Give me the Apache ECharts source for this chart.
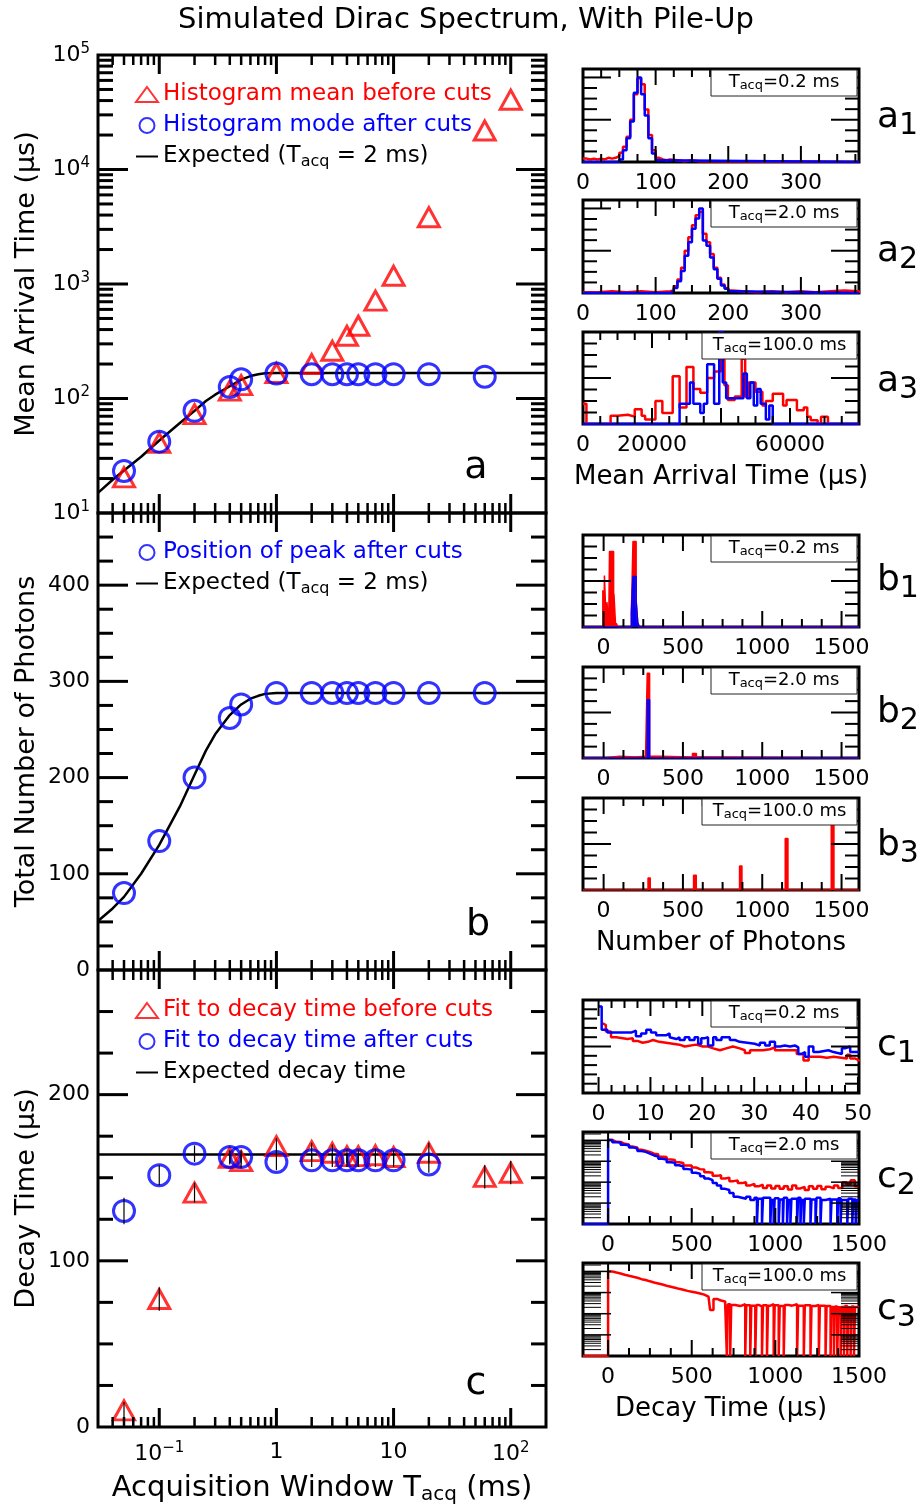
<!DOCTYPE html>
<html>
<head>
<meta charset="utf-8">
<title>Simulated Dirac Spectrum, With Pile-Up</title>
<script src="https://cdn.jsdelivr.net/npm/echarts@6.0.0/dist/echarts.min.js"></script>
<style>
  html, body { margin: 0; padding: 0; background: #fff; }
  #main { width: 923px; height: 1509px; }
</style>
</head>
<body>
<div id="main"></div>
<script>
// ---- main panels, x = acquisition window T_acq (ms) ----
const tAcqAll = [0.05, 0.1, 0.2, 0.4, 0.5, 1, 2, 3, 4, 5, 7, 10, 20, 60, 100]
const tAcqCut = [0.05, 0.1, 0.2, 0.4, 0.5, 1, 2, 3, 4, 5, 7, 10, 20, 60]
const tAcqFit = [0.05, 0.1, 0.2, 0.4, 0.5, 1, 2, 3, 4, 5, 7, 10, 20]

// a: mean arrival time (us)
const meanBeforeCuts = [20.5, 41, 73, 117, 131, 167, 200, 261, 353, 432, 715, 1180, 3830, 21900, 40700]
const modeAfterCuts = [23.3, 42, 78, 126, 147, 165, 163, 163, 163, 163, 163, 163, 163, 155]
const expectedArrivalT = [0.03, 0.04, 0.05, 0.07, 0.1, 0.15, 0.2, 0.25, 0.3, 0.4, 0.5, 0.6, 0.7, 0.8, 1, 200]
const expectedArrival = [15, 19.5, 23.5, 31, 43, 61, 78, 95, 108, 128, 146, 157, 163, 166, 167, 167]

// b: total number of photons
const photonPeak = [80, 134, 200, 262, 276, 288, 288, 288, 288, 288, 288, 288, 288, 288]
const expectedPhotonsT = [0.03, 0.04, 0.05, 0.07, 0.1, 0.15, 0.2, 0.25, 0.3, 0.4, 0.5, 0.6, 0.7, 0.8, 1, 200]
const expectedPhotons = [51, 64, 76, 100, 130, 170, 203, 228, 245, 265, 276, 282, 285, 287, 288, 288]

// c: decay time (us)
const decayBeforeCuts = [10, 77, 141, 162, 160, 169, 166, 165, 163, 163, 163.5, 162.5, 165, 150.5, 153]
const decayBeforeErr = [5, 7, 6, 4, 4, 5, 5, 5, 4, 4, 4, 4, 6, 7, 7]
const decayAfterCuts = [130, 151.5, 164.5, 162.5, 162.5, 159.5, 160.5, 160.5, 160.5, 160.5, 160.5, 160.5, 158]
const decayAfterErr = [8, 6, 5, 4, 4, 5, 4, 4, 4, 4, 4, 4, 5]
const expectedDecayT = [0.03, 200]
const expectedDecay = [164, 164]

// tick positions
const logMajorX = [0.1, 1, 10, 100]
const logMinorX = [0.04, 0.05, 0.06, 0.07, 0.08, 0.09, 0.2, 0.3, 0.4, 0.5, 0.6, 0.7, 0.8, 0.9,
  2, 3, 4, 5, 6, 7, 8, 9, 20, 30, 40, 50, 60, 70, 80, 90]
const logMajorA = [100, 1000, 10000]
const logMinorA = [20, 30, 40, 50, 60, 70, 80, 90, 200, 300, 400, 500, 600, 700, 800, 900,
  2000, 3000, 4000, 5000, 6000, 7000, 8000, 9000, 20000, 30000, 40000, 50000, 60000, 70000, 80000, 90000]
const majorB = [100, 200, 300, 400]
const minorB = [25, 50, 75, 125, 150, 175, 225, 250, 275, 325, 350, 375, 425, 450]
const majorC = [100, 200]
const minorC = [25, 50, 75, 125, 150, 175, 225, 250]

// ---- small panels (histograms) ----
const a1X = [0, 5, 10, 15, 20, 25, 30, 35, 40, 45, 50, 55, 60, 65, 70, 75, 80, 85, 90, 95, 100, 105, 110, 115, 120, 130, 140, 150, 160, 170, 380]
const a1Red = [4, 3, 4, 3, 4, 3, 5, 4, 5, 7, 11, 18, 30, 50, 80, 99, 92, 62, 32, 14, 5, 3, 2, 3, 2, 1, 2, 1, 1, 0, 0]
const a1BlueX = [0, 50, 55, 60, 65, 70, 75, 80, 85, 90, 95, 100, 105, 380]
const a1Blue = [0, 3, 14, 28, 48, 82, 100, 80, 55, 28, 10, 2, 0, 0]

const a2X = [0, 20, 40, 60, 80, 100, 120, 125, 130, 135, 140, 145, 150, 155, 160, 165, 170, 175, 180, 185, 190, 195, 200, 205, 220, 240, 260, 280, 300, 320, 340, 360, 380]
const a2Red = [1, 2, 1, 2, 1, 2, 3, 8, 16, 30, 50, 66, 80, 92, 96, 70, 60, 46, 30, 18, 10, 6, 3, 2, 1, 2, 1, 2, 1, 2, 3, 2, 0]
const a2BlueX = [0, 120, 125, 130, 135, 140, 145, 150, 155, 160, 165, 170, 175, 180, 185, 190, 195, 200, 205, 380]
const a2Blue = [0, 2, 6, 14, 26, 44, 60, 76, 88, 100, 62, 56, 42, 28, 17, 9, 5, 2, 0, 0]

const a3X = [0, 1000, 8000, 10000, 13000, 15000, 17000, 18000, 21000, 23000, 26000, 28000, 30000, 32000, 34000, 36000, 38000, 40000, 41000, 42000, 44000, 46000, 47000, 48000, 50000, 52000, 53000, 55000, 58000, 59000, 62000, 64000, 65000, 66000, 68000, 69000, 71000, 80000]
const a3Red = [22, 0, 9, 10, 8, 16, 9, 5, 25, 12, 52, 18, 62, 38, 34, 50, 57, 70, 42, 26, 30, 71, 30, 45, 35, 20, 25, 33, 20, 26, 15, 18, 8, 4, 0, 8, 0, 0]
const a3BlueX = [0, 28000, 31000, 32000, 34000, 35000, 36000, 38000, 39500, 40500, 41500, 46500, 47500, 48500, 49500, 50500, 51500, 53000, 54000, 55000, 80000]
const a3Blue = [0, 22, 45, 22, 12, 22, 65, 22, 100, 45, 28, 55, 28, 45, 20, 38, 22, 5, 20, 0, 0]

const b1X = [-130, -5, 2, 5, 17, 21, 32, 37, 63, 65, 76, 80, 90, 175, 185, 205, 215, 225, 300, 310, 1610]
const b1Red = [0, 40, 0, 56, 0, 27, 0, 82, 0, 36, 0, 4, 0, 16, 93, 27, 5, 0, 2, 0, 0]
const b1BlueX = [-130, 175, 185, 205, 215, 225, 1610]
const b1Blue = [0, 16, 55, 29, 5, 0, 0]

const b2X = [-130, 0, 100, 200, 265, 275, 290, 350, 560, 585, 620, 1610]
const b2Red = [0, 2, 1, 2, 6, 93, 2, 1, 5, 1, 0, 0]
const b2BlueX = [-130, 275, 290, 1610]
const b2Blue = [0, 64, 0, 0]

const b3X = [-130, 280, 294, 567, 584, 857, 872, 1145, 1162, 1435, 1452, 1610]
const b3Red = [0, 13, 0, 16, 0, 26, 0, 56, 0, 71, 0, 0]

const c1BlueX = [0, 0.6, 1.7, 6.3, 7.2, 8.2, 9.2, 10.1, 11.1, 13.0, 13.7, 14.0, 15.0, 15.6, 16.6, 17.5, 18.5, 19.2, 19.8, 20.5, 21.1, 22.1, 22.7, 23.7, 25.3, 26.3, 27.2, 30.1, 31.1, 32.1, 33.0, 34.0, 35.0, 35.9, 36.9, 37.9, 38.5, 39.2, 39.8, 40.5, 41.4, 42.4, 44.3, 45.3, 46.9, 47.5, 48.5, 50.2]
const c1Blue = [93, 68, 65, 67, 61, 64, 68, 65, 62, 64, 60, 58, 60, 57, 60, 57, 60, 53, 59, 60, 51, 60, 57, 60, 57, 55, 53, 51, 54, 51, 55, 50, 51, 50, 51, 49, 42, 44, 39, 50, 44, 46, 44, 42, 48, 50, 44, 44]
const c1RedX = [0.8, 1.1, 1.4, 2.4, 3.4, 5.6, 6.6, 7.5, 8.5, 9.5, 10.5, 11.7, 13.0, 14.3, 15.6, 16.6, 18.8, 20.1, 21.1, 22.1, 23.4, 24.6, 25.9, 27.2, 28.2, 29.2, 31.7, 33.0, 34.0, 36.9, 38.2, 39.5, 40.5, 42.7, 44.0, 45.3, 47.9, 48.5, 49.5, 50.2]
const c1Red = [75, 73, 66, 60, 58, 59, 56, 54, 55, 57, 55, 54, 53, 52, 50, 52, 50, 50, 48, 46, 48, 50, 48, 46, 43, 46, 47, 49, 46, 46, 42, 35, 39, 38, 39, 37, 41, 37, 35, 34]

const c2RedX = [0, 25, 50, 75, 100, 125, 150, 175, 200, 225, 250, 275, 300, 325, 350, 375, 400, 425, 450, 475, 500, 525, 550, 575, 600, 625, 650, 675, 700, 725, 750, 775, 800, 825, 850, 875, 900, 925, 950, 975, 1000, 1025, 1050, 1075, 1100, 1125, 1150, 1175, 1200, 1225, 1250, 1275, 1300, 1325, 1350, 1375, 1400, 1425, 1450, 1475, 1500]
const c2Red = [10500, 8500, 8300, 6800, 6300, 5000, 4600, 3550, 3200, 2800, 2300, 2150, 1650, 1600, 1200, 1150, 890, 830, 630, 630, 500, 420, 400, 300, 280, 200, 215, 150, 165, 112, 120, 90, 100, 70, 83, 63, 76, 52, 70, 50, 66, 48, 63, 45, 70, 50, 60, 42, 63, 48, 66, 46, 60, 50, 70, 52, 100, 80, 125, 63, 63]
const c2BlueX = [-150, 0, 25, 50, 75, 100, 125, 150, 175, 200, 225, 250, 275, 300, 325, 350, 375, 400, 425, 450, 475, 500, 525, 550, 575, 600, 625, 650, 675, 700, 725, 750, 775, 800, 825, 850, 875,
  890, 896, 920, 926, 970, 976, 990, 996, 1020, 1026, 1045, 1050, 1070, 1076, 1090, 1096, 1130, 1136, 1150, 1156, 1170, 1176, 1210, 1216, 1240, 1246, 1270, 1276, 1300, 1330, 1336, 1370, 1376, 1390, 1396, 1430, 1436, 1460, 1466, 1480, 1486, 1500]
const c2Blue = [1, 10500, 8000, 7800, 6200, 5800, 4600, 4100, 3100, 2800, 2300, 1900, 1700, 1300, 1200, 900, 850, 640, 560, 420, 400, 280, 250, 190, 150, 125, 90, 70, 48, 42, 30, 20, 18, 16, 20, 14, 18,
  1, 16, 1, 18, 1, 14, 1, 17, 1, 15, 1, 18, 1, 14, 1, 16, 1, 18, 1, 14, 1, 16, 1, 15, 1, 18, 1, 14, 16, 1, 15, 1, 17, 1, 14, 1, 16, 1, 15, 1, 14, 14]

const c3X = [-150, 0, 25, 50, 75, 100, 125, 150, 175, 200, 225, 250, 275, 300, 325, 350, 375, 400, 425, 450, 475, 500, 525, 550, 575, 600, 610, 630, 650, 675, 700, 710, 716, 730, 736, 760, 790, 820, 826, 850, 856, 880, 886, 900, 920, 926, 950, 956, 970, 990, 996, 1020, 1026, 1050, 1056, 1080, 1100, 1130, 1136, 1170, 1176, 1210, 1216, 1240, 1260, 1266, 1300, 1306, 1330, 1336, 1350, 1356, 1370, 1376, 1390, 1396, 1410, 1416, 1430, 1436, 1450, 1456, 1470, 1476, 1500]
const c3Red = [1, 10000, 8900, 8000, 7000, 6200, 5600, 5000, 4300, 3900, 3400, 3000, 2700, 2400, 2100, 1900, 1700, 1500, 1350, 1200, 1100, 1000, 900, 800, 650, 540, 150, 500, 420, 380, 300, 1, 280, 1, 260, 230, 280, 1, 250, 1, 240, 1, 260, 220, 1, 250, 1, 240, 280, 1, 250, 1, 230, 1, 260, 240, 280, 1, 240, 1, 250, 1, 230, 260, 1, 240, 1, 230, 1, 210, 1, 220, 1, 200, 1, 210, 1, 230, 1, 200, 1, 220, 1, 210, 210]

// small panel ticks
const aMajor = [100, 200, 300]
const aMinor = [25, 50, 75, 125, 150, 175, 225, 250, 275, 325, 350, 375]
const a3Major = [20000, 40000, 60000]
const a3Minor = [5000, 10000, 15000, 25000, 30000, 35000, 45000, 50000, 55000, 65000, 70000, 75000]
const nMajor = [0, 500, 1000, 1500]
const nMinor = [125, 250, 375, 625, 750, 875, 1125, 1250, 1375]
const c1Major = [0, 10, 20, 30, 40, 50]
const c1Minor = [2.5, 5, 7.5, 12.5, 15, 17.5, 22.5, 25, 27.5, 32.5, 35, 37.5, 42.5, 45, 47.5]
const histMajorY = [50, 100]
const histMinorY = [12.5, 25, 37.5, 62.5, 75, 87.5]
const c1MajorY = [50]
const c1MinorY = [10, 20, 30, 40, 60, 70, 80, 90]
const logMajorC = [10, 100, 1000, 10000]
const logMinorC = [2, 3, 4, 5, 6, 7, 8, 9, 20, 30, 40, 50, 60, 70, 80, 90, 200, 300, 400, 500, 600, 700, 800, 900, 2000, 3000, 4000, 5000, 6000, 7000, 8000, 9000, 20000]

const F = 'DejaVu Sans'
const RED = '#ff0000'
const BLUE = '#0000ff'

let grids = []
let xAxes = []
let yAxes = []
let series = []
let graphic = []

function pairs (xs, ys) {
  return xs.map((x, i) => [x, ys[i]])
}

function seg (x1, y1, x2, y2, w) {
  return {type: 'line', shape: {x1, y1, x2, y2}, style: {stroke: '#000', lineWidth: w}}
}

// tick marks on all four sides, placed through the axes' own scales
function ticks (p, ref, xT, yT) {
  return {
    type: 'custom', xAxisIndex: p.xi, yAxisIndex: p.yi, data: [ref], silent: true, z: 6, clip: false,
    renderItem (params, api) {
      const cs = params.coordSys
      const kids = []
      xT.forEach(t => t.v.forEach(v => {
        const px = api.coord([v, ref[1]])[0]
        kids.push(seg(px, cs.y + cs.height, px, cs.y + cs.height - t.len, t.w))
        kids.push(seg(px, cs.y, px, cs.y + t.len, t.w))
      }))
      yT.forEach(t => t.v.forEach(v => {
        const py = api.coord([ref[0], v])[1]
        kids.push(seg(cs.x, py, cs.x + t.len, py, t.w))
        kids.push(seg(cs.x + cs.width, py, cs.x + cs.width - t.len, py, t.w))
      }))
      return {type: 'group', children: kids}
    }
  }
}

const bare = {axisLine: {show: false, onZero: false}, axisTick: {show: false}, splitLine: {show: false},
  minorTick: {show: false}, minorSplitLine: {show: false}}

function panel (box, bw, xCfg, yCfg) {
  const g = grids.length
  grids.push({left: box[0], top: box[1], width: box[2], height: box[3], show: true,
    borderColor: '#000', borderWidth: bw, backgroundColor: 'rgba(0,0,0,0)'})
  const xi = xAxes.length
  const yi = yAxes.length
  xAxes.push(Object.assign({gridIndex: g, position: 'bottom'}, bare, xCfg))
  xAxes.push(Object.assign({gridIndex: g, position: 'top'}, bare, xCfg, {axisLabel: {show: false}, name: ''}))
  yAxes.push(Object.assign({gridIndex: g, position: 'left'}, bare, yCfg))
  yAxes.push(Object.assign({gridIndex: g, position: 'right'}, bare, yCfg, {axisLabel: {show: false}, name: ''}))
  return {xi, yi}
}

const subRich = (size, pad) => ({fontSize: size, fontFamily: F, padding: [pad, 0, 0, 0]})
const supRich = (size, pad) => ({fontSize: size, fontFamily: F, padding: [0, 0, pad, 0]})
const nameStyle = {fontFamily: F, fontSize: 27, color: '#000', rich: {s: subRich(19, 12)}}
const tickLabel = {show: true, fontFamily: F, fontSize: 22, color: '#000'}

function supLabel (e) {
  if (e === 0) return '1'
  if (e === 1) return '10'
  return '10{sup|' + (e < 0 ? '\u2212' + (-e) : e) + '}'
}

// ---------- main panels ----------
const ML = 98
const MW = 448
const mainX = {type: 'log', logBase: 10, min: 0.03, max: 200, axisLabel: {show: false}}

const pa = panel([ML, 55, MW, 458], 3, mainX, {
  type: 'log', logBase: 10, min: 10, max: 100000,
  axisLabel: Object.assign({}, tickLabel, {margin: 8,
    formatter: v => '10{sup|' + Math.round(Math.log10(v)) + '}',
    rich: {sup: supRich(15, 12)}}),
  name: 'Mean Arrival Time (\u03bcs)', nameLocation: 'middle', nameGap: 58, nameTextStyle: nameStyle
})
const pb = panel([ML, 513, MW, 457], 3, mainX, {
  type: 'value', min: 0, max: 475, interval: 100,
  axisLabel: Object.assign({}, tickLabel, {margin: 8, formatter: v => (v <= 400 ? String(v) : '')}),
  name: 'Total Number of Photons', nameLocation: 'middle', nameGap: 58, nameTextStyle: nameStyle
})
const pc = panel([ML, 970, MW, 457], 3, Object.assign({}, mainX, {
  axisLabel: Object.assign({}, tickLabel, {margin: 14,
    formatter: v => {
      const l = Math.log10(v)
      const e = Math.round(l)
      return Math.abs(l - e) < 1e-6 && v > 0.05 && v < 150 ? supLabel(e) : ''
    },
    rich: {sup: supRich(15, 12)}}),
  name: 'Acquisition Window T{s|acq} (ms)', nameLocation: 'middle', nameGap: 45,
  nameTextStyle: {fontFamily: F, fontSize: 29, color: '#000', rich: {s: subRich(20, 13)}}
}), {
  type: 'value', min: 0, max: 275, interval: 100,
  axisLabel: Object.assign({}, tickLabel, {margin: 8, formatter: v => (v <= 200 ? String(v) : '')}),
  name: 'Decay Time (\u03bcs)', nameLocation: 'middle', nameGap: 58, nameTextStyle: nameStyle
})

const xMainTicks = [{v: logMajorX, len: 19, w: 3}, {v: logMinorX, len: 10, w: 2.5}]

function hollow (p, name, data, symbol, size, color, z) {
  return {type: 'scatter', name, xAxisIndex: p.xi, yAxisIndex: p.yi, data, symbol, symbolSize: size,
    itemStyle: {color: 'rgba(255,255,255,0)', borderColor: color, borderWidth: 3},
    z, silent: true, clip: false}
}
function expLine (p, name, data) {
  return {type: 'line', name, xAxisIndex: p.xi, yAxisIndex: p.yi, data, symbol: 'none', showSymbol: false,
    lineStyle: {color: '#000', width: 2.5}, itemStyle: {color: '#000'}, z: 2, silent: true}
}
function errBars (p, xs, ys, es) {
  return {
    type: 'custom', xAxisIndex: p.xi, yAxisIndex: p.yi, silent: true, z: 5,
    data: xs.map((x, i) => [x, ys[i], es[i]]),
    renderItem (params, api) {
      const lo = api.coord([api.value(0), api.value(1) - api.value(2)])
      const hi = api.coord([api.value(0), api.value(1) + api.value(2)])
      return seg(lo[0], lo[1], hi[0], hi[1], 1.2)
    }
  }
}

series.push(
  expLine(pa, 'Expected (Tacq = 2 ms)', pairs(expectedArrivalT, expectedArrival)),
  hollow(pa, 'Histogram mean before cuts', pairs(tAcqAll, meanBeforeCuts), 'triangle', [21, 19], RED, 3),
  hollow(pa, 'Histogram mode after cuts', pairs(tAcqCut, modeAfterCuts), 'circle', 21, BLUE, 4),
  ticks(pa, [1, 100], xMainTicks, [{v: logMajorA, len: 30, w: 3}, {v: logMinorA, len: 15, w: 3}]),

  expLine(pb, 'Expected (Tacq = 2 ms)', pairs(expectedPhotonsT, expectedPhotons)),
  hollow(pb, 'Position of peak after cuts', pairs(tAcqCut, photonPeak), 'circle', 21, BLUE, 4),
  ticks(pb, [1, 100], xMainTicks, [{v: majorB, len: 30, w: 3}, {v: minorB, len: 15, w: 3}]),

  expLine(pc, 'Expected decay time', pairs(expectedDecayT, expectedDecay)),
  errBars(pc, tAcqAll, decayBeforeCuts, decayBeforeErr),
  errBars(pc, tAcqFit, decayAfterCuts, decayAfterErr),
  hollow(pc, 'Fit to decay time before cuts', pairs(tAcqAll, decayBeforeCuts), 'triangle', [21, 19], RED, 3),
  hollow(pc, 'Fit to decay time after cuts', pairs(tAcqFit, decayAfterCuts), 'circle', 21, BLUE, 4),
  ticks(pc, [1, 100], xMainTicks, [{v: majorC, len: 30, w: 3}, {v: minorC, len: 15, w: 3}])
)

// ---------- small panels ----------
const SL = 583
const SW = 276
const smallY = {type: 'value', min: 0, max: 110, axisLabel: {show: false}}
const smallY100 = {type: 'value', min: 0, max: 100, axisLabel: {show: false}}
const smallYlog = {type: 'log', logBase: 10, min: 1, max: 25000, axisLabel: {show: false}}

function smallX (min, max, interval, show, name) {
  const cfg = {type: 'value', min, max, interval,
    axisLabel: Object.assign({}, tickLabel, {margin: 10, showMinLabel: true, showMaxLabel: true,
      formatter: v => (show(v) ? String(v) : '')})}
  if (name) {
    Object.assign(cfg, {name, nameLocation: 'middle', nameGap: 40,
      nameTextStyle: {fontFamily: F, fontSize: 26, color: '#000'}})
  }
  return cfg
}
const showA = v => v >= 0 && v <= 300 && v % 100 === 0
const showA3 = v => v === 0 || v === 20000 || v === 60000
const show500 = v => v >= 0 && v % 500 === 0
const show10 = v => v >= 0 && v % 10 === 0

function stepLine (p, data, color, width, area) {
  const s = {type: 'line', xAxisIndex: p.xi, yAxisIndex: p.yi, data, step: 'end', symbol: 'none',
    showSymbol: false, lineStyle: {color, width}, itemStyle: {color}, z: 3, silent: true}
  if (area) s.areaStyle = {color, opacity: 1}
  return s
}

const xSmallTicks = (maj, min) => [{v: maj, len: 16, w: 2}, {v: min, len: 8, w: 2}]
const ySmallTicks = (maj, min) => [{v: maj, len: 28, w: 2}, {v: min, len: 14, w: 2}]
const yLogTicks = [{v: logMajorC, len: 28, w: 1.5}, {v: logMinorC, len: 18, w: 1}]

const p_a1 = panel([SL, 69, SW, 93], 3, smallX(0, 380, 100, showA), smallY)
const p_a2 = panel([SL, 200, SW, 93], 3, smallX(0, 380, 100, showA), smallY)
const p_a3 = panel([SL, 332, SW, 92], 3, smallX(0, 80000, 20000, showA3, 'Mean Arrival Time (\u03bcs)'), smallY100)
const p_b1 = panel([SL, 535, SW, 92], 3, smallX(-130, 1610, 10, show500), smallY100)
const p_b2 = panel([SL, 667, SW, 91], 3, smallX(-130, 1610, 10, show500), smallY100)
const p_b3 = panel([SL, 798, SW, 92], 3, smallX(-130, 1610, 10, show500, 'Number of Photons'), smallY100)
const p_c1 = panel([SL, 1000, SW, 93], 3, smallX(-3, 50.2, 1, show10), smallY100)
const p_c2 = panel([SL, 1132, SW, 92], 3, smallX(-150, 1500, 50, show500), smallYlog)
const p_c3 = panel([SL, 1263, SW, 93], 3, smallX(-150, 1500, 50, show500, 'Decay Time (\u03bcs)'), smallYlog)

series.push(
  stepLine(p_a1, pairs(a1X, a1Red), RED, 2.5), stepLine(p_a1, pairs(a1BlueX, a1Blue), BLUE, 2.5),
  ticks(p_a1, [10, 10], xSmallTicks(aMajor, aMinor), ySmallTicks(histMajorY, histMinorY)),
  stepLine(p_a2, pairs(a2X, a2Red), RED, 2.5), stepLine(p_a2, pairs(a2BlueX, a2Blue), BLUE, 2.5),
  ticks(p_a2, [10, 10], xSmallTicks(aMajor, aMinor), ySmallTicks(histMajorY, histMinorY)),
  stepLine(p_a3, pairs(a3X, a3Red), RED, 2.5), stepLine(p_a3, pairs(a3BlueX, a3Blue), BLUE, 2.5),
  ticks(p_a3, [10, 10], xSmallTicks(a3Major, a3Minor), ySmallTicks(histMajorY, histMinorY)),

  stepLine(p_b1, pairs(b1X, b1Red), RED, 1.5, true), stepLine(p_b1, pairs(b1BlueX, b1Blue), BLUE, 1.5, true),
  ticks(p_b1, [10, 10], xSmallTicks(nMajor, nMinor), ySmallTicks(histMajorY, histMinorY)),
  stepLine(p_b2, pairs(b2X, b2Red), RED, 1.5, true), stepLine(p_b2, pairs(b2BlueX, b2Blue), BLUE, 1.5, true),
  ticks(p_b2, [10, 10], xSmallTicks(nMajor, nMinor), ySmallTicks(histMajorY, histMinorY)),
  stepLine(p_b3, pairs(b3X, b3Red), RED, 1.5, true),
  ticks(p_b3, [10, 10], xSmallTicks(nMajor, nMinor), ySmallTicks(histMajorY, histMinorY)),

  stepLine(p_c1, pairs(c1RedX, c1Red), RED, 2.5), stepLine(p_c1, pairs(c1BlueX, c1Blue), BLUE, 2.5),
  ticks(p_c1, [10, 10], xSmallTicks(c1Major, c1Minor), ySmallTicks(c1MajorY, c1MinorY)),
  stepLine(p_c2, pairs(c2RedX, c2Red), RED, 2.5), stepLine(p_c2, pairs(c2BlueX, c2Blue), BLUE, 2.5),
  ticks(p_c2, [10, 10], xSmallTicks(nMajor, nMinor), yLogTicks),
  stepLine(p_c3, pairs(c3X, c3Red), RED, 2.5),
  ticks(p_c3, [10, 10], xSmallTicks(nMajor, nMinor), yLogTicks)
)

// ---------- texts ----------
graphic.push({type: 'text', x: 466, y: 20, z: 100, silent: true,
  style: {text: 'Simulated Dirac Spectrum, With Pile-Up', fontFamily: F, fontSize: 29, fill: '#000',
    align: 'center', verticalAlign: 'middle'}})

;[['a', 476, 468], ['b', 478, 925], ['c', 476, 1384]].forEach(t => {
  graphic.push({type: 'text', x: t[1], y: t[2], z: 100, silent: true,
    style: {text: t[0], fontFamily: F, fontSize: 38, fill: '#000', align: 'center', verticalAlign: 'middle'}})
})

const smallTags = [['a', '1', 118], ['a', '2', 252], ['a', '3', 382], ['b', '1', 581], ['b', '2', 713],
  ['b', '3', 846], ['c', '1', 1046], ['c', '2', 1178], ['c', '3', 1310]]
smallTags.forEach(t => {
  graphic.push({type: 'text', x: 877, y: t[2], z: 100, silent: true,
    style: {text: t[0] + '{s|' + t[1] + '}', fontFamily: F, fontSize: 36, fill: '#000',
      align: 'left', verticalAlign: 'middle', rich: {s: subRich(30, 16)}}})
})

const tacqBoxes = [[69, '0.2'], [200, '2.0'], [332, '100.0'], [535, '0.2'], [667, '2.0'], [798, '100.0'],
  [1000, '0.2'], [1132, '2.0'], [1263, '100.0']]
tacqBoxes.forEach(b => {
  const w = b[1].length > 3 ? 155 : 146
  const x = SL + SW - 2 - w
  const y = b[0] + 1
  graphic.push({type: 'rect', z: 100, silent: true, shape: {x, y, width: w, height: 26},
    style: {fill: '#fff', stroke: '#222', lineWidth: 1}})
  graphic.push({type: 'text', x: x + w / 2, y: y + 12, z: 101, silent: true,
    style: {text: 'T{s|acq}=' + b[1] + ' ms', fontFamily: F, fontSize: 18, fill: '#000',
      align: 'center', verticalAlign: 'middle', rich: {s: subRich(13, 8)}}})
})

// ---------- legends ----------
const legendBase = {orient: 'vertical', itemWidth: 22, itemHeight: 15, itemGap: 8, selectedMode: false,
  textStyle: {fontFamily: F, fontSize: 23, color: '#000', rich: {s: subRich(16, 11)}},
  formatter: name => name.replace('Tacq', 'T{s|acq}')}
const lineItem = name => ({name, itemStyle: {color: 'rgba(0,0,0,0)', borderWidth: 0}})

const legends = [
  Object.assign({}, legendBase, {left: 130, top: 78, data: [
    {name: 'Histogram mean before cuts', textStyle: {color: RED}},
    {name: 'Histogram mode after cuts', textStyle: {color: BLUE}},
    lineItem('Expected (Tacq = 2 ms)')]}),
  Object.assign({}, legendBase, {left: 130, top: 536, data: [
    {name: 'Position of peak after cuts', textStyle: {color: BLUE}},
    lineItem('Expected (Tacq = 2 ms)')]}),
  Object.assign({}, legendBase, {left: 130, top: 994, data: [
    {name: 'Fit to decay time before cuts', textStyle: {color: RED}},
    {name: 'Fit to decay time after cuts', textStyle: {color: BLUE}},
    lineItem('Expected decay time')]})
]

const chart = echarts.init(document.getElementById('main'))
chart.setOption({
  animation: false,
  backgroundColor: '#fff',
  textStyle: {fontFamily: F},
  grid: grids,
  xAxis: xAxes,
  yAxis: yAxes,
  legend: legends,
  series,
  graphic
})
</script>
</body>
</html>
